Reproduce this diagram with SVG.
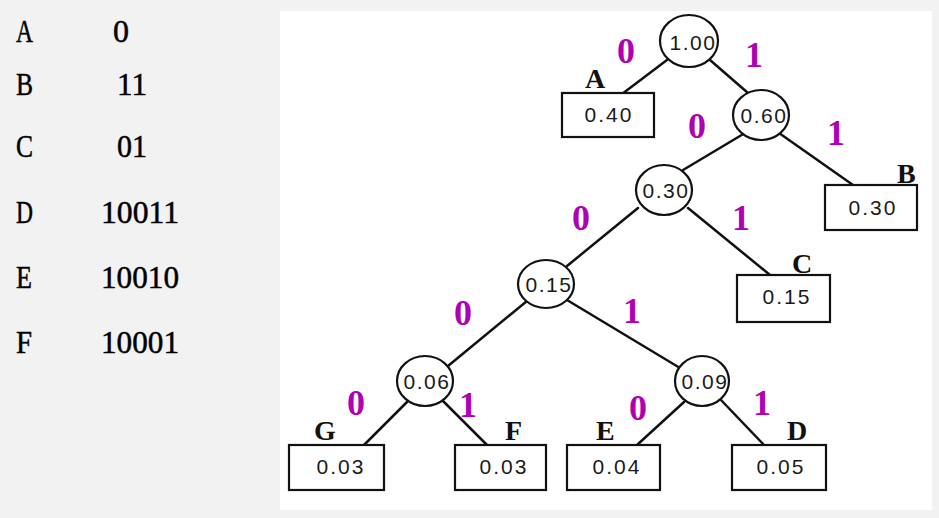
<svg xmlns="http://www.w3.org/2000/svg" width="939" height="518" viewBox="0 0 939 518">
  <defs>
    <style>
      .code { font-family: "Liberation Serif", "Times New Roman", serif; font-size: 32px; fill: #000; stroke: #000; stroke-width: 0.5; }
      .node ellipse { fill: #fff; stroke: #111; stroke-width: 2.2; }
      .node rect { fill: #fff; stroke: #111; stroke-width: 2.2; }
      .val { font-family: "Liberation Sans", Arial, sans-serif; font-size: 21px; fill: #1a1a1a; text-anchor: middle; letter-spacing: 1.5px; }
      .box .val { letter-spacing: 2px; }
      .lbl { font-family: "Liberation Serif", "Times New Roman", serif; font-size: 28px; font-weight: bold; fill: #111; }
      .bit { font-family: "Liberation Serif", "Times New Roman", serif; font-size: 36px; font-weight: bold; fill: #b000b4; text-anchor: middle; }
      #edges line { stroke: #111; stroke-width: 2.5; stroke-linecap: round; }
    </style>
  </defs>

  <!-- page background and white tree panel -->
  <rect x="0" y="0" width="939" height="518" fill="#f2f2f2"/>
  <rect x="280" y="11" width="652" height="499" fill="#ffffff"/>

  <!-- code table -->
  <g id="code-table">
    <text class="code" x="16" y="42" textLength="17" lengthAdjust="spacingAndGlyphs">A</text>
    <text class="code" x="113" y="42">0</text>
    <text class="code" x="16" y="95" textLength="17" lengthAdjust="spacingAndGlyphs">B</text>
    <text class="code" x="117" y="95" textLength="30" lengthAdjust="spacingAndGlyphs">11</text>
    <text class="code" x="16" y="157" textLength="17" lengthAdjust="spacingAndGlyphs">C</text>
    <text class="code" x="117" y="157" textLength="30" lengthAdjust="spacingAndGlyphs">01</text>
    <text class="code" x="16" y="223" textLength="17" lengthAdjust="spacingAndGlyphs">D</text>
    <text class="code" x="101" y="223" textLength="78" lengthAdjust="spacingAndGlyphs">10011</text>
    <text class="code" x="16" y="288" textLength="16" lengthAdjust="spacingAndGlyphs">E</text>
    <text class="code" x="101" y="288" textLength="78" lengthAdjust="spacingAndGlyphs">10010</text>
    <text class="code" x="16" y="353" textLength="16" lengthAdjust="spacingAndGlyphs">F</text>
    <text class="code" x="101" y="353" textLength="78" lengthAdjust="spacingAndGlyphs">10001</text>
  </g>

  <!-- tree edges -->
  <g id="edges">
    <line x1="667" y1="60" x2="622" y2="94"/>
    <line x1="710" y1="60" x2="748" y2="93"/>
    <line x1="745" y1="133" x2="683" y2="170"/>
    <line x1="779" y1="133" x2="853" y2="185"/>
    <line x1="638" y1="208" x2="567" y2="266"/>
    <line x1="688" y1="208" x2="770" y2="275"/>
    <line x1="527" y1="301" x2="448" y2="366"/>
    <line x1="567" y1="300" x2="680" y2="368"/>
    <line x1="407" y1="402" x2="364" y2="445"/>
    <line x1="442" y1="400" x2="487" y2="445"/>
    <line x1="684" y1="402" x2="637" y2="445"/>
    <line x1="721" y1="400" x2="764" y2="445"/>
  </g>

  <!-- branch bits -->
  <g id="bits">
    <text class="bit" x="626" y="63">0</text>
    <text class="bit" x="754" y="67">1</text>
    <text class="bit" x="697" y="138">0</text>
    <text class="bit" x="836" y="145">1</text>
    <text class="bit" x="581" y="230">0</text>
    <text class="bit" x="741" y="230">1</text>
    <text class="bit" x="463" y="325">0</text>
    <text class="bit" x="632" y="323">1</text>
    <text class="bit" x="356" y="415">0</text>
    <text class="bit" x="468" y="417">1</text>
    <text class="bit" x="638" y="420">0</text>
    <text class="bit" x="762" y="415">1</text>
  </g>

  <!-- internal nodes -->
  <g id="n100" class="node"><ellipse cx="689" cy="41" rx="29" ry="26"/><text class="val" x="693" y="50">1.00</text></g>
  <g id="n060" class="node"><ellipse cx="761" cy="115" rx="28" ry="25"/><text class="val" x="764" y="123">0.60</text></g>
  <g id="n030" class="node"><ellipse cx="664" cy="190" rx="28" ry="25"/><text class="val" x="666" y="198">0.30</text></g>
  <g id="n015" class="node"><ellipse cx="546" cy="284" rx="28" ry="24"/><text class="val" x="549" y="292">0.15</text></g>
  <g id="n006" class="node"><ellipse cx="425" cy="381" rx="28" ry="25"/><text class="val" x="427" y="389">0.06</text></g>
  <g id="n009" class="node"><ellipse cx="702" cy="381" rx="27" ry="25"/><text class="val" x="705" y="389">0.09</text></g>

  <!-- leaves -->
  <g id="leafA" class="node box"><rect x="562" y="93" width="92" height="44"/><text class="val" x="609" y="122">0.40</text><text class="lbl" x="585" y="88">A</text></g>
  <g id="leafB" class="node box"><rect x="825" y="185" width="92" height="45"/><text class="val" x="873" y="215">0.30</text><text class="lbl" x="897" y="183">B</text></g>
  <g id="leafC" class="node box"><rect x="737" y="275" width="93" height="47"/><text class="val" x="787" y="304">0.15</text><text class="lbl" x="792" y="273">C</text></g>
  <g id="leafG" class="node box"><rect x="289" y="445" width="95" height="45"/><text class="val" x="341" y="474">0.03</text><text class="lbl" x="314" y="440">G</text></g>
  <g id="leafF" class="node box"><rect x="455" y="445" width="91" height="45"/><text class="val" x="504" y="474">0.03</text><text class="lbl" x="505" y="440">F</text></g>
  <g id="leafE" class="node box"><rect x="567" y="445" width="93" height="45"/><text class="val" x="617" y="474">0.04</text><text class="lbl" x="596" y="440">E</text></g>
  <g id="leafD" class="node box"><rect x="732" y="445" width="94" height="45"/><text class="val" x="781" y="474">0.05</text><text class="lbl" x="787" y="440">D</text></g>
</svg>
